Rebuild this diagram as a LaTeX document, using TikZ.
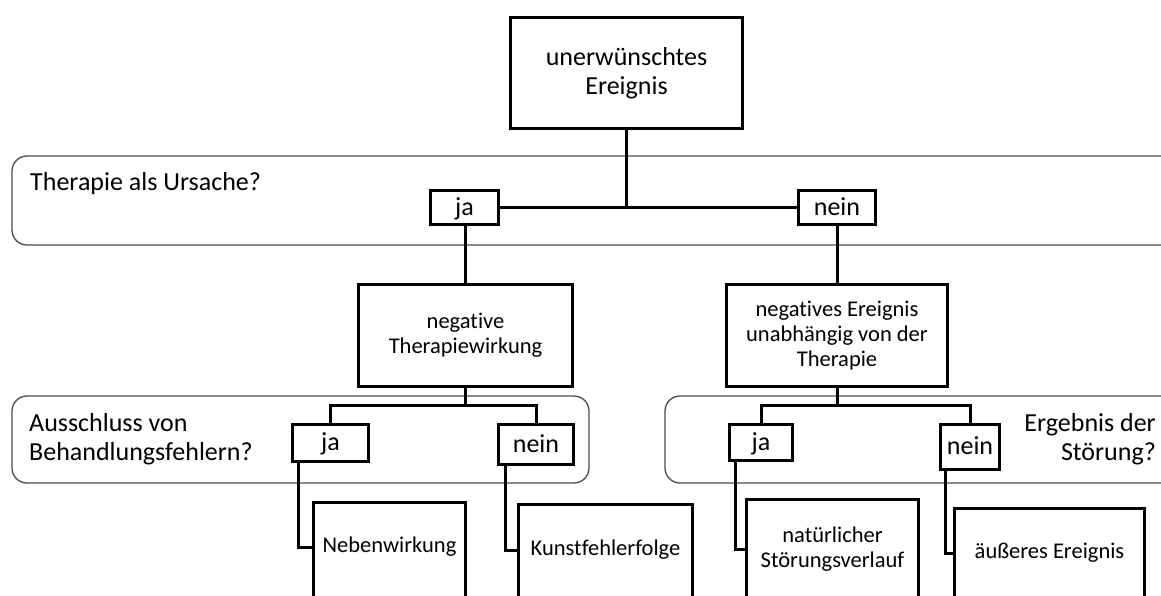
\documentclass[tikz,border=0pt]{standalone}
\usepackage{fontspec}
\setmainfont{Carlito}[Ligatures={NoCommon}]
\begin{document}
\begin{tikzpicture}[x=1pt,y=-1pt,
  box/.style={draw, fill=white, line width=3.3pt, inner sep=0pt, align=center},
  big/.style={font=\fontsize{26}{29}\selectfont},
  yn/.style={box, font=\fontsize{26}{29}\selectfont, text height=19pt, text depth=4pt},
  small/.style={font=\fontsize{22.5}{25}\selectfont},
  conn/.style={line width=3pt},
  band/.style={draw=black!70, line width=1.3pt, rounded corners=15pt},
  lbl/.style={inner sep=0pt, font=\fontsize{26}{29.5}\selectfont},
  txt/.style={inner sep=0pt, align=center, font=\fontsize{22.5}{25}\selectfont}]
\useasboundingbox (0,0) rectangle (1161,595);
\clip (0,0) rectangle (1161,595);

% bands
\draw[band] (12,156) rectangle (1220,245);
\draw[band] (12,396) rectangle (589,483);
\draw[band] (665,396) rectangle (1220,483);

% band labels
\node[lbl, anchor=base west] (q1) at (30,190) {Therapie als Ursache?};
\node[lbl, anchor=west, align=left] (q2) at (29,439) {Ausschluss von\\Behandlungsfehlern?};
\node[lbl, anchor=east, align=right] (q3) at (1156,439) {Ergebnis der\\Störung?};

% nodes
\node[box, big, minimum width=232pt, minimum height=111pt] (top) at (626.5,73) {unerwünschtes\\Ereignis};
\node[yn, minimum width=68pt, minimum height=34pt] (ja1) at (464.5,207.5) {ja};
\node[yn, minimum width=77pt, minimum height=34pt] (nein1) at (837,207.5) {nein};

\node[box, small, minimum width=214pt, minimum height=102pt] (negT) at (465.5,335.5) {negative\\Therapiewirkung};
\node[box, small, minimum width=221pt, minimum height=102pt] (negE) at (837,335.5) {negatives Ereignis\\unabhängig von der\\Therapie};

\node[yn, minimum width=76pt, minimum height=37pt] (ja2) at (330.5,443) {ja};
\node[yn, minimum width=75pt, minimum height=40pt] (nein2) at (536,444.5) {nein};
\node[yn, minimum width=63pt, minimum height=36pt] (ja3) at (761,442.5) {ja};
\node[yn, minimum width=59pt, minimum height=45pt] (nein3) at (970,447) {nein};

\node[box, minimum width=152pt, minimum height=130pt, anchor=north] (neb) at (389.5,500.5) {};
\node[box, minimum width=174pt, minimum height=130pt, anchor=north] (kunst) at (605.5,502.5) {};
\node[box, minimum width=172pt, minimum height=130pt, anchor=north] (nat) at (832.5,497.5) {};
\node[box, minimum width=190pt, minimum height=130pt, anchor=north] (aeus) at (1049.5,506.5) {};
\node[txt] (nebt) at (389.5,547) {Nebenwirkung};
\node[txt] (kunstt) at (605.5,550) {Kunstfehlerfolge};
\node[txt] (natt) at (832.5,549.5) {natürlicher\\Störungsverlauf};
\node[txt] (aeust) at (1049.5,553) {äußeres Ereignis};

% connectors
\draw[conn] (ja1.east) -- (nein1.west);
\draw[conn] (top.south) -- (top.south |- ja1.east);
\draw[conn] (negT.north |- ja1.south) -- (negT.north);
\draw[conn] (nein1.south) -- (negE.north);

\coordinate (brL) at (465.5,405);
\draw[conn] (negT.south) -- (brL);
\draw[conn] (ja2.north) |- (brL) -| (nein2.north);
\coordinate (brR) at (837,405);
\draw[conn] (negE.south) -- (brR);
\draw[conn] (ja3.north) |- (brR) -| (nein3.north);

\draw[conn] ([xshift=7.5pt]ja2.south west) |- (neb.west |- nebt);
\draw[conn] ([xshift=8.5pt]nein2.south west) |- (kunst.west |- kunstt);
\draw[conn] ([xshift=7.5pt]ja3.south west) |- (nat.west |- natt);
\draw[conn] ([xshift=6.5pt]nein3.south west) |- (aeus.west |- aeust);
\end{tikzpicture}
\end{document}
